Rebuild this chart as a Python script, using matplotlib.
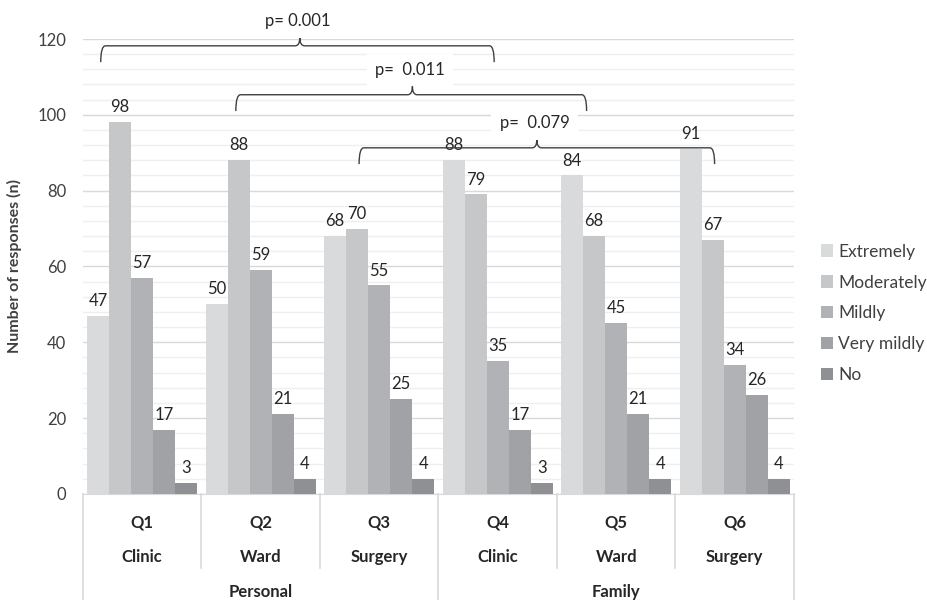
import matplotlib.pyplot as plt
import numpy as np
from matplotlib.path import Path
from matplotlib.patches import PathPatch
from matplotlib.lines import Line2D
from matplotlib.patches import Patch

plt.rcParams['font.family'] = ['Lato', 'DejaVu Sans']

questions = ['Q1', 'Q2', 'Q3', 'Q4', 'Q5', 'Q6']
locations = ['Clinic', 'Ward', 'Surgery', 'Clinic', 'Ward', 'Surgery']
groups = ['Personal', 'Family']
series = ['Extremely', 'Moderately', 'Mildly', 'Very mildly', 'No']
extremely = [47, 50, 68, 88, 84, 91]
moderately = [98, 88, 70, 79, 68, 67]
mildly = [57, 59, 55, 35, 45, 34]
very_mildly = [17, 21, 25, 17, 21, 26]
no = [3, 4, 4, 3, 4, 4]
values = [extremely, moderately, mildly, very_mildly, no]
colors = ['#d9dadb', '#c6c7c9', '#b1b2b5', '#a1a2a5', '#8f9093']

# significance braces: (left, tip, right, line y, text)
braces = [(-0.35, 1.33, 2.97, 118.2, 'p= 0.001'),
          (0.79, 2.28, 3.75, 105.3, 'p=  0.011'),
          (1.83, 3.33, 4.83, 91.3, 'p=  0.079')]

fig = plt.figure(figsize=(9.28, 6), dpi=100)
ax = fig.add_axes([0.0894, 0.1767, 0.7662, 0.7583])

x = np.arange(len(questions))
n = len(series)
w = 0.93 / n
for i, (name, vals) in enumerate(zip(series, values)):
    pos = x - 0.465 + w * (i + 0.5)
    ax.bar(pos, vals, width=w, color=colors[i], label=name, zorder=3)
    for px, v in zip(pos, vals):
        ax.annotate(str(v), (px, v), xytext=(0, 5), textcoords='offset points',
                    ha='center', va='bottom', fontsize=12, color='#262626', zorder=4)

ax.set_xlim(-0.5, 5.5)
ax.set_ylim(0, 120)
ax.set_yticks(np.arange(0, 121, 20))
ax.set_yticks(np.arange(0, 121, 4), minor=True)
ax.grid(axis='y', which='major', color='#d9d9d9', lw=1, zorder=0)
ax.grid(axis='y', which='minor', color='#efefef', lw=1, zorder=0)
ax.tick_params(axis='y', which='both', length=0, labelsize=12, labelcolor='#404040', pad=12)
ax.set_xticks([])
for s in ['top', 'right', 'left']:
    ax.spines[s].set_visible(False)
ax.spines['bottom'].set_color('#d9d9d9')
ax.set_ylabel('Number of responses (n)', fontsize=11.5, fontweight='bold', color='#404040', labelpad=11)

# multi-level category axis
trans = ax.get_xaxis_transform()
for i in range(len(questions)):
    ax.text(x[i], -0.062, questions[i], transform=trans, ha='center', va='center',
            fontsize=12, fontweight='bold', color='#262626')
    ax.text(x[i], -0.138, locations[i], transform=trans, ha='center', va='center',
            fontsize=12, fontweight='bold', color='#262626')
for j, g in enumerate(groups):
    ax.text(1 + 3 * j, -0.215, g, transform=trans, ha='center', va='center',
            fontsize=12, fontweight='bold', color='#262626')
for b in np.arange(-0.5, 6, 1.0):
    bottom = -0.24 if b in (-0.5, 2.5, 5.5) else -0.163
    ax.add_line(Line2D([b, b], [0, bottom], transform=trans, color='#d9d9d9',
                       lw=1.2, clip_on=False))

# braces
for left, tip, right, yl, label in braces:
    rx, drop, rise = 0.04, 4.3, 2.2
    verts = [(left, yl - drop), (left, yl), (left + rx, yl),
             (tip - rx, yl), (tip, yl), (tip, yl + rise),
             (tip, yl), (tip + rx, yl),
             (right - rx, yl), (right, yl), (right, yl - drop)]
    codes = [Path.MOVETO, Path.CURVE3, Path.CURVE3,
             Path.LINETO, Path.CURVE3, Path.CURVE3,
             Path.CURVE3, Path.CURVE3,
             Path.LINETO, Path.CURVE3, Path.CURVE3]
    ax.add_patch(PathPatch(Path(verts, codes), fill=False, edgecolor='#404040',
                           lw=1, clip_on=False, zorder=5))
    ax.text(tip - 0.02, yl + 6.5, label, ha='center', va='center', fontsize=12,
            color='#262626', zorder=6, clip_on=False,
            bbox=dict(facecolor='white', edgecolor='none', pad=6))

handles = [Patch(facecolor=c, edgecolor='none') for c in colors]
fig.legend(handles, series, loc='upper left', bbox_to_anchor=(0.8675, 0.62),
           frameon=False, fontsize=12.5, labelcolor='#404040', handlelength=0.7,
           handleheight=0.7, handletextpad=0.3, labelspacing=0.86)

fig.savefig('out.png', dpi=100)
